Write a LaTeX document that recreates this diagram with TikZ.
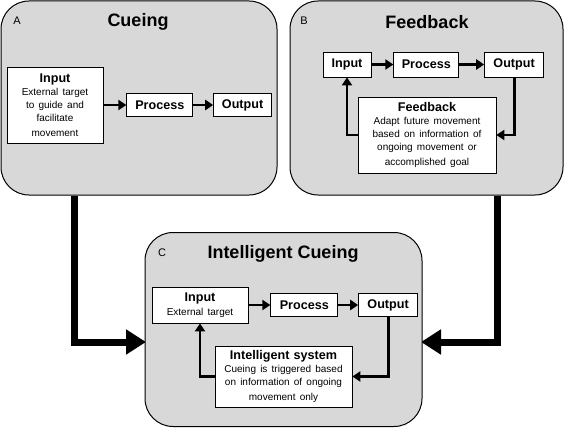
\documentclass[tikz,border=0pt]{standalone}
\usepackage{fontspec}
\setmainfont{Liberation Sans}
\usetikzlibrary{arrows.meta,positioning}
\definecolor{panelgray}{RGB}{216,216,216}
\newcommand{\desc}{\normalfont\fontsize{10}{13}\selectfont}

\begin{document}
\begin{tikzpicture}[x=1pt, y=-1pt,
		panel/.style = {draw, line width=1pt, fill=panelgray, rounded corners=28pt, inner sep=0pt},
		box/.style = {draw, line width=0.8pt, fill=white, align=center, inner sep=0pt, font=\fontsize{12.6}{14.5}\selectfont\bfseries},
		title/.style = {font=\fontsize{18}{20}\selectfont\bfseries},
		tag/.style = {font=\fontsize{11}{13}\selectfont},
		arr/.style = {line width=2.8pt, -{Triangle[length=8pt,width=10pt]}},
		bigarr/.style = {line width=7pt, -{Triangle[length=20pt,width=24pt]}}]
		\useasboundingbox (0,0) rectangle (565,428);
		% A: cueing
		\node[panel, minimum width=276pt, minimum height=194pt] (A) at (139,98) {};
		\node[tag] (aTag) at (17,21) {A};
		\node[title] (aTitle) at (138,22) {Cueing};
		\node[box, text width=96pt, minimum height=76pt] (aIn) at (55,105) {Input\par\desc External target\\to guide and\\facilitate\\movement};
		\node[box, text width=66pt, minimum height=23pt] (aProc) [right=23pt of aIn] {Process};
		\node[box, text width=58pt, minimum height=23pt] (aOut) [right=20pt of aProc] {Output};
		\draw[arr] (aIn) -- (aProc);
		\draw[arr] (aProc) -- (aOut);
		% B: feedback
		\node[panel, minimum width=273pt, minimum height=194pt] (B) at (426.5,98) {};
		\node[tag] (bTag) at (304,21) {B};
		\node[title] (bTitle) at (427,22) {Feedback};
		\node[box, text width=48pt, minimum height=25pt] (bIn) at (347,64.5) {Input};
		\node[box, text width=65pt, minimum height=25pt] (bProc) [right=22pt of bIn] {Process};
		\node[box, text width=59pt, minimum height=25pt] (bOut) [right=25pt of bProc] {Output};
		\node[box, text width=138pt, minimum height=76pt] (bFb) at (427,135) {Feedback\par\desc Adapt future movement\\based on information of\\ongoing movement or\\accomplished goal};
		\draw[arr] (bIn) -- (bProc);
		\draw[arr] (bProc) -- (bOut);
		\draw[arr] (bOut.south) |- (bFb.east);
		\draw[arr] (bFb.west) -| (bIn.south);
		% joining arrows
		\draw[bigarr] ([xshift=-65pt]A.south) |- (146,342);
		\draw[bigarr] ([xshift=70.5pt]B.south) |- (421,342);
		% C: intelligent cueing
		\node[panel, minimum width=277pt, minimum height=194pt] (C) at (283.5,329.5) {};
		\node[tag] (cTag) at (162,253) {C};
		\node[title] (cTitle) at (283,254) {Intelligent Cueing};
		\node[box, text width=96pt, minimum height=36pt] (cIn) at (200,305) {Input\par\desc External target};
		\node[box, text width=67pt, minimum height=23pt] (cProc) [right=22pt of cIn] {Process};
		\node[box, text width=59pt, minimum height=23pt] (cOut) [right=20pt of cProc] {Output};
		\node[box, text width=137pt, minimum height=61pt] (cSys) at (283.5,376.5) {Intelligent system\par\desc Cueing is triggered based\\on information of ongoing\\movement only};
		\draw[arr] (cIn) -- (cProc);
		\draw[arr] (cProc) -- (cOut);
		\draw[arr] (cOut.south) |- (cSys.east);
		\draw[arr] (cSys.west) -| (cIn.south);
	\end{tikzpicture}
\end{document}
